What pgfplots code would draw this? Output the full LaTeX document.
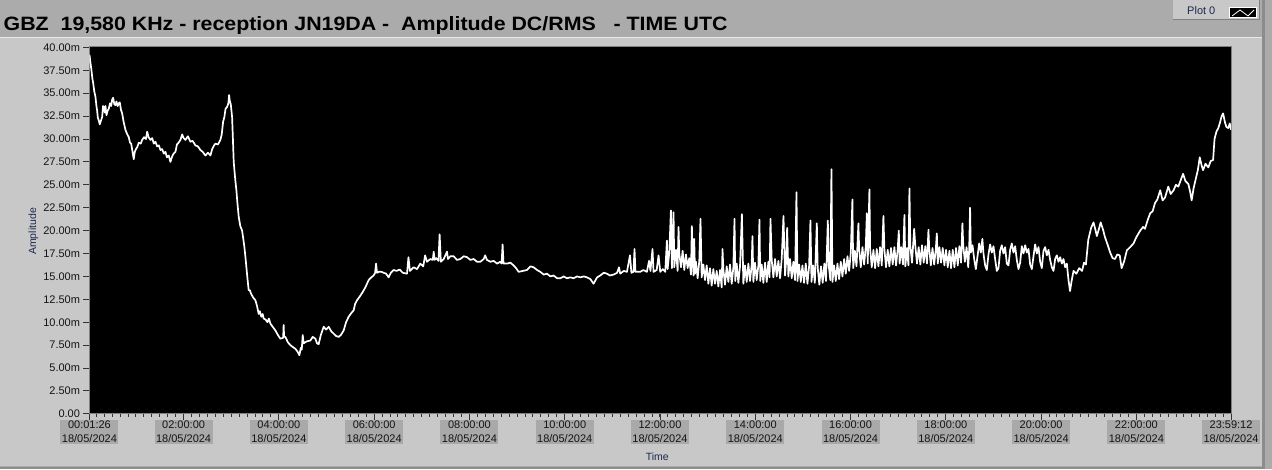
\documentclass[border=0pt]{standalone}
\usepackage{fontspec}
\setmainfont{Liberation Sans}
\usepackage{graphicx}
\usepackage{pgfplots}
\pgfplotsset{compat=1.18}
\usepackage{pgfplotstable}
\definecolor{outergray}{HTML}{ABABAB}
\definecolor{panelgray}{HTML}{C8C8C8}
\definecolor{boxgray}{HTML}{A9A9A9}
\definecolor{edgegray}{HTML}{8C8C8C}
\definecolor{ticktext}{HTML}{141414}
\definecolor{labeltext}{HTML}{1E2850}

\pgfplotstableread{
h v
0.024 39.2
0.045 38.3
0.066 37.5
0.085 36.6
0.102 36.1
0.125 35.2
0.150 34.6
0.170 33.6
0.185 33.1
0.200 32.3
0.219 32.05
0.240 31.6
0.265 32.0
0.290 32.4
0.310 33.6
0.324 33.5
0.345 32.9
0.360 33.6
0.381 32.6
0.405 33.1
0.429 33.3
0.455 33.9
0.480 33.6
0.500 34.3
0.521 34.5
0.545 33.8
0.569 33.7
0.590 34.1
0.615 33.6
0.640 33.9
0.660 34.0
0.685 33.2
0.710 32.8
0.740 31.9
0.779 31.0
0.810 30.6
0.849 30.2
0.875 29.6
0.899 29.5
0.925 28.7
0.953 27.8
0.975 28.6
1.000 28.9
1.025 29.1
1.060 29.6
1.100 29.5
1.130 29.9
1.170 30.2
1.210 30.0
1.235 30.8
1.265 30.2
1.304 29.9
1.340 30.1
1.375 29.5
1.409 29.7
1.445 29.2
1.480 29.3
1.514 28.8
1.550 28.9
1.585 28.4
1.619 28.6
1.650 28.0
1.688 28.2
1.723 27.5
1.760 28.1
1.790 28.4
1.829 28.6
1.860 29.4
1.895 29.6
1.933 29.9
1.970 30.5
2.000 30.1
2.038 29.9
2.090 30.3
2.143 29.7
2.190 29.8
2.248 29.3
2.300 29.2
2.353 28.8
2.400 28.6
2.458 28.2
2.510 28.5
2.563 28.2
2.600 28.9
2.640 29.3
2.668 29.5
2.720 29.4
2.772 29.9
2.800 30.5
2.830 31.9
2.856 32.4
2.880 33.3
2.913 33.5
2.940 33.9
2.955 34.8
2.968 34.2
2.990 33.8
3.018 32.4
3.035 30.0
3.052 27.5
3.080 25.8
3.108 24.4
3.130 23.0
3.157 21.5
3.190 20.5
3.228 20.0
3.250 19.2
3.276 18.2
3.300 17.0
3.318 16.0
3.340 14.8
3.366 13.5
3.390 13.5
3.417 13.1
3.460 12.7
3.507 12.4
3.540 11.8
3.576 10.9
3.600 11.2
3.630 10.6
3.660 10.9
3.681 10.4
3.720 10.3
3.760 10.0
3.790 10.4
3.822 9.85
3.870 9.5
3.927 9.1
3.980 8.6
4.031 8.2
4.090 8.3
4.100 9.7
4.110 8.4
4.136 8.4
4.190 7.8
4.241 7.5
4.290 7.3
4.346 7.1
4.390 6.8
4.430 6.4
4.460 7.2
4.480 7.0
4.500 8.6
4.520 7.7
4.580 7.9
4.661 8.0
4.710 8.4
4.766 8.2
4.800 7.7
4.835 7.6
4.880 8.6
4.940 9.5
4.990 9.2
5.045 9.5
5.100 9.0
5.150 8.75
5.200 8.5
5.255 8.4
5.300 8.6
5.360 9.1
5.410 10.0
5.465 10.6
5.520 11.0
5.570 11.3
5.600 12.0
5.641 12.4
5.710 12.9
5.760 13.3
5.815 13.8
5.884 14.6
5.940 14.9
5.989 15.1
6.020 15.4
6.040 16.4
6.060 15.4
6.094 15.5
6.150 15.5
6.199 15.4
6.250 15.3
6.304 14.9
6.350 15.4
6.409 15.7
6.470 15.6
6.535 15.75
6.60 15.4
6.69 15.3
6.72 17.1
6.75 15.6
6.828 16.0
6.90 15.8
6.969 16.4
7.03 16.1
7.07 17.3
7.109 16.6
7.18 16.9
7.23 16.8
7.25 17.7
7.27 16.8
7.30 17.0
7.35 16.7
7.374 19.6
7.40 16.6
7.46 16.9
7.529 17.7
7.55 16.9
7.60 17.2
7.668 17.2
7.74 16.8
7.808 16.9
7.88 17.2
7.949 17.1
8.02 16.8
8.087 16.9
8.16 16.6
8.228 16.6
8.30 16.9
8.33 17.3
8.368 16.8
8.44 16.6
8.507 16.7
8.58 16.4
8.648 16.6
8.675 16.4
8.696 18.5
8.715 16.4
8.788 16.4
8.86 16.5
8.927 16.2
8.98 15.9
9.032 15.5
9.12 15.6
9.208 15.7
9.28 16.1
9.346 16.0
9.42 15.7
9.487 15.5
9.56 15.2
9.627 15.3
9.70 15.0
9.766 15.1
9.84 14.8
9.906 14.8
9.98 15.0
10.047 14.8
10.12 14.9
10.185 14.8
10.26 15.0
10.326 14.9
10.40 15.0
10.467 14.9
10.54 14.7
10.605 14.2
10.68 14.9
10.746 15.1
10.82 15.4
10.886 15.3
10.95 15.1
11.025 15.2
11.10 15.4
11.14 16.0
11.165 15.3
11.24 15.6
11.306 15.5
11.37 17.3
11.40 15.4
11.444 15.5
11.465 18.0
11.485 15.5
11.585 15.5
11.65 15.7
11.725 15.5
11.77 16.7
11.80 15.6
11.843 18.0
11.864 15.5
11.93 15.7
11.97 17.3
12.005 15.5
12.06 15.8
12.110 15.5
12.145 18.9
12.160 15.8
12.195 17.6
12.229 22.2
12.250 15.9
12.284 22.0
12.300 16.0
12.335 17.9
12.370 15.6
12.389 20.4
12.405 17.5
12.440 16.0
12.475 17.8
12.510 15.7
12.545 17.4
12.580 15.9
12.615 17.0
12.650 15.2
12.669 20.5
12.685 16.8
12.705 15.1
12.718 19.1
12.735 15.3
12.755 16.6
12.790 14.8
12.825 16.7
12.850 21.3
12.875 14.9
12.910 16.3
12.945 14.6
12.980 16.2
13.015 14.2
13.050 15.9
13.085 14.0
13.120 15.8
13.155 14.2
13.190 15.6
13.225 13.9
13.260 15.7
13.295 13.8
13.312 18.0
13.330 15.8
13.365 14.1
13.400 16.1
13.435 14.4
13.470 16.3
13.505 14.2
13.540 16.0
13.564 21.3
13.580 14.5
13.610 16.4
13.645 14.3
13.680 16.1
13.719 21.8
13.750 14.2
13.785 16.2
13.820 14.4
13.855 16.4
13.890 14.5
13.925 16.3
13.941 19.4
13.960 14.4
13.995 16.5
14.030 14.6
14.065 16.2
14.088 21.2
14.105 14.5
14.135 16.3
14.170 14.3
14.205 16.5
14.240 14.4
14.275 16.6
14.300 14.9
14.319 21.3
14.345 16.8
14.380 14.9
14.415 16.9
14.450 15.0
14.485 16.7
14.520 14.8
14.555 16.9
14.592 21.6
14.625 15.1
14.650 16.8
14.669 20.3
14.695 15.0
14.730 16.9
14.765 14.8
14.800 16.6
14.835 14.6
14.865 24.2
14.885 14.5
14.920 16.3
14.955 14.4
14.990 16.2
15.025 14.3
15.060 16.4
15.095 14.2
15.130 16.1
15.158 21.1
15.180 14.4
15.215 16.2
15.250 14.3
15.292 20.8
15.310 16.0
15.345 14.1
15.380 16.1
15.415 14.3
15.450 16.4
15.485 14.5
15.523 21.1
15.540 16.3
15.575 14.6
15.599 26.7
15.620 14.4
15.655 16.2
15.690 14.5
15.725 16.4
15.760 14.7
15.795 16.6
15.830 15.0
15.865 16.9
15.900 15.3
15.935 17.2
15.970 15.6
16.005 17.6
16.039 23.4
16.055 15.9
16.090 17.8
16.125 16.1
16.165 20.8
16.180 18.0
16.215 16.0
16.250 18.2
16.285 16.3
16.320 18.3
16.342 21.9
16.360 16.4
16.396 24.5
16.410 18.1
16.445 16.0
16.480 17.9
16.515 15.9
16.550 18.0
16.585 16.1
16.620 18.2
16.655 16.2
16.690 21.6
16.710 18.0
16.745 16.0
16.780 17.9
16.815 16.1
16.850 18.1
16.885 16.3
16.920 18.2
16.955 16.2
16.990 18.0
17.013 20.0
17.030 16.4
17.065 18.2
17.100 16.3
17.131 21.7
17.150 16.1
17.185 18.1
17.215 16.2
17.236 24.6
17.255 18.3
17.290 16.5
17.335 20.2
17.360 18.3
17.395 16.4
17.430 18.2
17.465 16.3
17.500 18.4
17.535 16.5
17.570 18.3
17.605 16.4
17.635 20.1
17.650 18.2
17.685 16.2
17.720 18.1
17.755 16.3
17.790 18.0
17.811 19.7
17.830 16.4
17.865 18.2
17.900 16.5
17.935 18.1
17.970 16.2
18.005 17.9
18.040 16.0
18.075 17.8
18.110 15.9
18.145 17.9
18.180 16.0
18.215 18.1
18.250 16.2
18.285 18.3
18.320 16.5
18.348 20.8
18.365 18.4
18.400 16.6
18.435 18.2
18.470 16.0
18.490 17.9
18.509 22.5
18.525 17.6
18.560 18.4
18.595 16.9
18.630 15.8
18.665 17.2
18.700 18.6
18.735 17.6
18.767 19.1
18.790 17.5
18.825 16.2
18.860 15.7
18.895 17.4
18.930 18.5
18.965 17.6
19.000 18.3
19.035 16.9
19.070 15.6
19.105 15.9
19.140 17.8
19.175 18.4
19.210 17.5
19.245 18.2
19.280 16.4
19.315 16.2
19.350 17.9
19.385 18.6
19.420 17.6
19.455 18.3
19.490 16.8
19.525 15.8
19.560 16.5
19.595 18.3
19.630 17.5
19.665 18.4
19.700 17.6
19.735 18.0
19.770 16.3
19.805 15.8
19.840 17.2
19.875 18.5
19.910 17.5
19.945 18.2
19.980 16.6
20.015 15.9
20.050 17.8
20.085 18.2
20.120 17.3
20.155 17.9
20.190 16.8
20.225 16.0
20.260 15.6
20.295 16.9
20.330 17.3
20.365 16.6
20.400 17.1
20.435 16.4
20.470 16.9
20.505 16.0
20.540 16.4
20.575 14.6
20.607 13.4
20.64 14.5
20.68 15.6
20.74 15.3
20.80 15.9
20.86 15.6
20.90 16.5
20.94 16.3
20.99 19.0
21.05 20.3
21.10 20.9
21.14 20.1
21.17 19.4
21.22 20.3
21.25 20.9
21.30 20.1
21.34 19.3
21.40 18.4
21.45 17.6
21.50 17.0
21.55 16.9
21.60 17.4
21.65 17.3
21.69 15.9
21.74 16.6
21.80 17.85
21.87 18.2
21.94 18.6
22.00 19.3
22.08 20.0
22.14 20.4
22.18 20.2
22.24 21.2
22.29 21.9
22.34 22.1
22.39 23.0
22.44 23.4
22.50 24.4
22.55 23.3
22.60 23.6
22.67 24.8
22.72 24.0
22.78 24.4
22.83 25.0
22.88 24.8
22.93 25.5
22.98 26.2
23.03 25.4
23.09 25.1
23.13 24.2
23.16 23.3
23.20 24.6
23.24 25.5
23.29 26.6
23.33 28.0
23.37 27.1
23.40 26.6
23.45 27.3
23.51 26.9
23.56 27.6
23.61 27.7
23.64 30.0
23.68 30.8
23.72 31.2
23.75 31.7
23.79 32.5
23.82 32.8
23.86 31.8
23.89 31.3
23.93 31.2
23.96 31.7
23.987 31.0
}\gbzdata

\begin{document}
\begin{tikzpicture}
% window background
\fill[outergray] (0,0) rectangle (1272bp,469bp);
\fill[panelgray] (0,3bp) rectangle (1262bp,432bp);
\draw[white!60!panelgray, line width=1bp] (0,431.5bp) -- (1262bp,431.5bp);
\fill[edgegray] (1262bp,0) rectangle (1265bp,469bp);
\fill[black!45] (0,0) rectangle (1265bp,2.5bp);

\begin{axis}[
  at={(89bp,55.5bp)}, anchor=south west,
  scale only axis, width=1142bp, height=367.5bp,
  xmin=0.0239, xmax=23.9867, ymin=0, ymax=40.1,
  axis background/.style={fill=black},
  axis line style={draw=black!50, line width=1bp},
  tick align=outside, xtick pos=lower, ytick pos=left,
  major tick length=6bp, minor tick length=3bp,
  tick style={draw=black!80, line width=1bp},
  xtick={0.0239,2,4,6,8,10,12,14,16,18,20,22,23.9867},
  xticklabels={{00:01:26\\18/05/2024},{02:00:00\\18/05/2024},{04:00:00\\18/05/2024},{06:00:00\\18/05/2024},{08:00:00\\18/05/2024},{10:00:00\\18/05/2024},{12:00:00\\18/05/2024},{14:00:00\\18/05/2024},{16:00:00\\18/05/2024},{18:00:00\\18/05/2024},{20:00:00\\18/05/2024},{22:00:00\\18/05/2024},{23:59:12\\18/05/2024}},
  minor xtick={0.16667,0.33333,...,23.9},
  ytick={0,2.5,...,40},
  yticklabels={0.00,2.50m,5.00m,7.50m,10.00m,12.50m,15.00m,17.50m,20.00m,22.50m,25.00m,27.50m,30.00m,32.50m,35.00m,37.50m,40.00m},
  ticklabel style={font=\fontsize{11bp}{13bp}\selectfont, text=ticktext},
  xticklabel style={fill=boxgray, align=center, inner xsep=1.5bp, inner ysep=1bp, font=\fontsize{11bp}{14bp}\selectfont},
  xlabel={Time}, ylabel={Amplitude},
  label style={font=\fontsize{10.5bp}{12bp}\selectfont, text=labeltext},
  xlabel style={at={(axis description cs:0.4974,-0.1156)}, anchor=center},
  ylabel style={at={(axis description cs:-0.049,0.4966)}, anchor=center},
]
\addplot[white, line width=1.7bp, line join=round] table[x=h,y=v] {\gbzdata};
\end{axis}

% title
\node[anchor=base west, inner sep=0pt, text=black] at (3bp,439bp)
  {\resizebox{724bp}{14bp}{\bfseries GBZ\ \ 19,580 KHz - reception JN19DA -\ \ Amplitude DC/RMS\ \ \ - TIME UTC}};

% legend
\fill[panelgray] (1173bp,449bp) rectangle (1260bp,469bp);
\draw[black!50, line width=1bp] (1173bp,449.5bp) -- (1259.5bp,449.5bp) -- (1259.5bp,469bp);
\node[anchor=base west, inner sep=0pt, text=labeltext, font=\fontsize{11bp}{13bp}\selectfont] at (1187bp,455bp) {Plot 0};
\fill[white] (1229bp,451bp) rectangle (1257bp,462bp);
\fill[black] (1230bp,452bp) rectangle (1256bp,461bp);
\draw[white, line width=0.8bp] (1232bp,453.5bp) -- (1240bp,459.5bp) -- (1248bp,453.5bp) -- (1254bp,459.5bp);
\end{tikzpicture}
\end{document}
